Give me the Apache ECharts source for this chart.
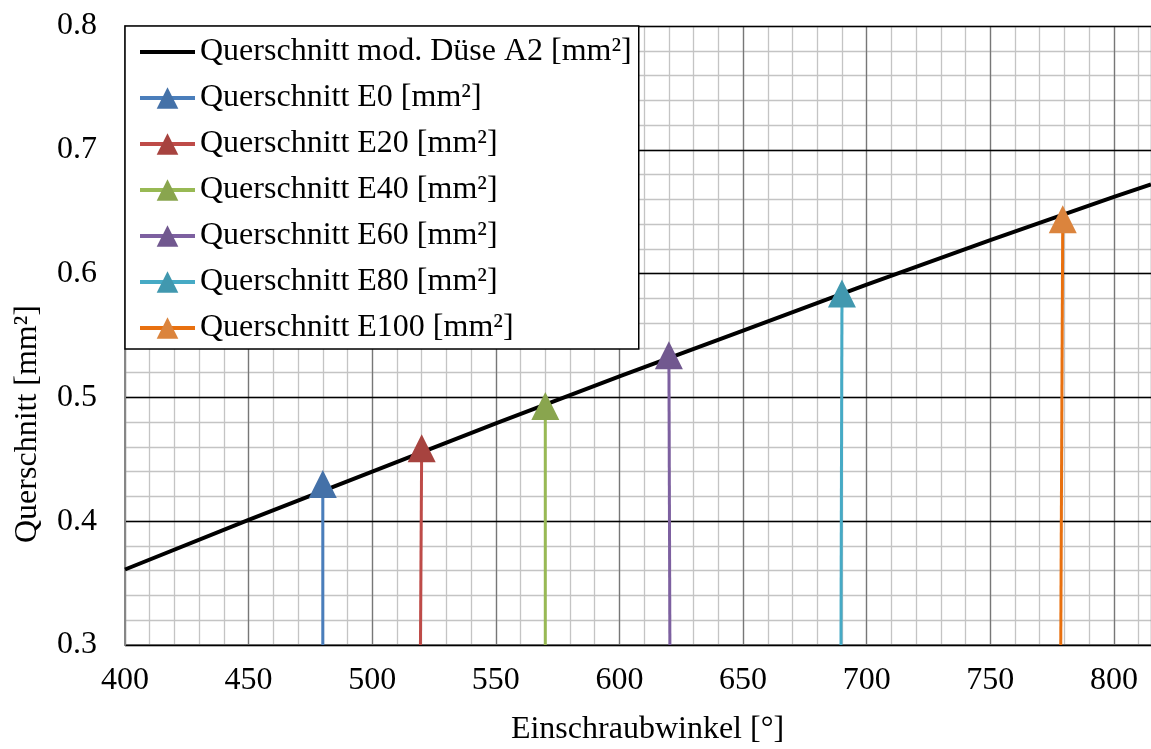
<!DOCTYPE html>
<html>
<head>
<meta charset="utf-8">
<script src="https://cdn.jsdelivr.net/npm/echarts@6/dist/echarts.min.js"></script>
<style>
  html, body { margin: 0; padding: 0; background: #fff; }
  #chart { width: 1151px; height: 749px; }
</style>
</head>
<body>
<div id="chart"></div>
<script>
// reference curve (Querschnitt mod. Düse A2)
const curveX = [400, 450, 500, 550, 600, 650, 700, 750, 800, 815]
const curveY = [0.361, 0.401, 0.440, 0.479, 0.517, 0.554, 0.591, 0.627, 0.662, 0.672]

// E series: vertical stems from the base up to a triangle
const stemNames = ['Querschnitt E0 [mm²]', 'Querschnitt E20 [mm²]', 'Querschnitt E40 [mm²]',
  'Querschnitt E60 [mm²]', 'Querschnitt E80 [mm²]', 'Querschnitt E100 [mm²]']
const stemTopX = [480, 520, 570, 620, 690, 779.3]
const stemBaseX = [480, 519.5, 570, 620.4, 689.6, 778.5]
const stemTopY = [0.430, 0.459, 0.493, 0.534, 0.584, 0.644]
const stemBaseY = 0.3
const lineColors = ['#4a7ebb', '#be4b48', '#98b954', '#7d60a0', '#46aac5', '#e8700f']
const markerColors = ['#4471a8', '#a7433f', '#89a54e', '#71588f', '#4198af', '#db843d']

const fontFamily = '"Liberation Serif", "Times New Roman", serif'
const fontColor = '#000'
const fontSize = 32

const chart = echarts.init(document.getElementById('chart'))

const series = [{
  name: 'Querschnitt mod. Düse A2 [mm²]',
  type: 'line',
  xAxisIndex: 1,
  yAxisIndex: 1,
  symbol: 'line',
  showSymbol: false,
  z: 5,
  lineStyle: { color: '#000', width: 4 },
  itemStyle: { color: '#000' },
  data: curveX.map((x, i) => [x, curveY[i]])
}]

stemNames.forEach((name, i) => {
  series.push({
    name: name,
    type: 'line',
    xAxisIndex: 1,
    yAxisIndex: 1,
    symbol: 'triangle',
    symbolSize: [28, 28],
    z: 6,
    lineStyle: { color: lineColors[i], width: 3 },
    itemStyle: { color: markerColors[i] },
    data: [
      { value: [stemBaseX[i], stemBaseY], symbol: 'none' },
      [stemTopX[i], stemTopY[i]]
    ]
  })
})

const options = {
  animation: false,
  backgroundColor: '#fff',
  grid: {
    left: 125,
    right: 0,
    top: 26,
    bottom: 104,
    outerBoundsMode: 'none'
  },
  legend: {
    orient: 'vertical',
    left: 125,
    top: 26,
    padding: [10, 7, 5, 13],
    backgroundColor: '#fff',
    borderColor: '#000',
    borderWidth: 1.5,
    itemWidth: 55,
    itemHeight: 27,
    itemGap: 14,
    lineStyle: { width: 4 },
    textStyle: {
      fontFamily: fontFamily,
      fontSize: fontSize,
      lineHeight: 20,
      color: fontColor
    },
    z: 10,
    data: series.map(s => s.name)
  },
  xAxis: [{
    // minor grid every 10
    type: 'value',
    position: 'bottom',
    min: 400,
    max: 815,
    interval: 10,
    z: 0,
    axisLine: { show: false },
    axisTick: { show: false },
    axisLabel: { show: false },
    splitLine: { show: true, lineStyle: { color: '#c4c4c4', width: 1.3 } }
  }, {
    type: 'value',
    position: 'bottom',
    min: 400,
    max: 815,
    interval: 50,
    z: 1,
    name: 'Einschraubwinkel [°]',
    nameLocation: 'middle',
    nameGap: 69,
    nameTextStyle: {
      fontFamily: fontFamily,
      fontSize: fontSize,
      color: fontColor,
      padding: [0, 0, 0, 19]
    },
    axisLine: { show: true, onZero: false, lineStyle: { color: '#868686', width: 2 } },
    axisTick: { show: false },
    axisLabel: {
      margin: 20,
      showMaxLabel: false,
      fontFamily: fontFamily,
      fontSize: fontSize,
      color: fontColor
    },
    splitLine: { show: true, lineStyle: { color: '#777', width: 1.3 } }
  }],
  yAxis: [{
    // minor grid every 0.02
    type: 'value',
    position: 'left',
    min: 0.3,
    max: 0.8,
    interval: 0.02,
    z: 0,
    axisLine: { show: false },
    axisTick: { show: false },
    axisLabel: { show: false },
    splitLine: { show: true, lineStyle: { color: '#c4c4c4', width: 1.3 } }
  }, {
    type: 'value',
    position: 'left',
    min: 0.3,
    max: 0.8,
    interval: 0.1,
    z: 2,
    name: 'Querschnitt [mm²]',
    nameLocation: 'middle',
    nameGap: 81,
    nameTextStyle: {
      fontFamily: fontFamily,
      fontSize: fontSize,
      color: fontColor,
      padding: [0, 177, 0, 0]
    },
    axisLine: { show: true, onZero: false, lineStyle: { color: '#868686', width: 2 } },
    axisTick: { show: false },
    axisLabel: {
      margin: 28,
      formatter: v => v.toFixed(1),
      fontFamily: fontFamily,
      fontSize: fontSize,
      color: fontColor
    },
    splitLine: { show: true, lineStyle: { color: '#000', width: 1.3 } }
  }],
  series: series
}

chart.setOption(options)
</script>
</body>
</html>
